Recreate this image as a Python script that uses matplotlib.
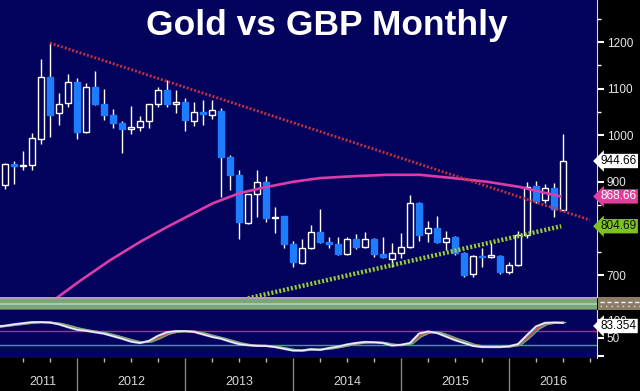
import numpy as np
import matplotlib.pyplot as plt
from matplotlib.patches import Rectangle
from matplotlib.transforms import blended_transform_factory

# Monthly gold in GBP, Apr 2011 - Jun 2016
months = [f"{2011 + (m + 3) // 12}-{(m + 3) % 12 + 1:02d}" for m in range(63)]
opens = [893, 937, 933, 936, 992, 1125, 1048, 1069, 1114, 1007, 1103, 1067, 1043, 1026, 1013, 1018,
         1030, 1067, 1097, 1067, 1071, 1030, 1050, 1043, 1052, 953, 915, 812, 874, 900, 822, 827,
         767, 725, 758, 792, 771, 767, 745, 777, 760, 777, 745, 734, 747, 760, 854, 790, 801, 771,
         782, 747, 702, 739, 739, 740, 706, 721, 786, 891, 861, 887, 839]
highs = [940, 945, 966, 1005, 1164, 1198, 1090, 1131, 1123, 1112, 1138, 1099, 1056, 1030, 1063, 1041,
         1068, 1103, 1118, 1097, 1080, 1071, 1076, 1076, 1058, 958, 925, 874, 925, 912, 846, 827,
         773, 777, 807, 842, 782, 782, 782, 788, 792, 779, 782, 769, 790, 872, 857, 816, 827, 794,
         784, 749, 742, 758, 769, 742, 728, 794, 900, 902, 895, 897, 1003]
lows = [885, 895, 925, 925, 981, 996, 1022, 1060, 992, 1005, 1065, 1033, 1015, 962, 1003, 1009,
        1015, 1061, 1061, 1048, 1009, 1020, 1022, 1035, 867, 882, 777, 810, 824, 814, 790, 758,
        717, 723, 756, 769, 758, 744, 743, 756, 758, 739, 737, 717, 736, 758, 773, 771, 769, 754,
        743, 696, 696, 717, 737, 702, 702, 719, 779, 854, 854, 824, 839]
closes = [938, 935, 935, 994, 1125, 1043, 1067, 1114, 1007, 1103, 1067, 1043, 1026, 1013, 1018, 1030,
          1067, 1097, 1067, 1071, 1033, 1050, 1045, 1054, 953, 915, 814, 874, 900, 822, 824, 767,
          728, 758, 792, 771, 767, 745, 777, 760, 777, 745, 739, 747, 760, 854, 786, 801, 771, 779,
          747, 700, 740, 738, 743, 706, 721, 786, 889, 859, 887, 842, 944.66]

# long moving average (read points: bar index, value)
ma_idx = [5, 5.9, 8.3, 11.7, 15, 18, 20.6, 23.1, 26.1, 29.1, 32, 35, 38.7, 42.4, 46.1, 49.8, 53.6, 57.2, 61.7]
ma_vals = [640, 653, 687, 732, 771, 803, 829, 854, 876, 889, 900, 908, 912, 915, 915, 908, 900, 889, 868.66]

# trend lines (bar index, price)
res_idx = [5, 65]
res_vals = [1198, 818]
sup_idx = [27, 61.8]
sup_vals = [650, 804.69]

# oscillator (lower panel)
osc_fast = [82, 84, 88, 91, 94, 94, 93, 88, 80, 73, 70, 66, 62, 55, 48, 40, 36, 42, 56, 66, 69, 69,
            67, 60, 53, 48, 40, 33, 30, 28, 28, 25, 20, 15, 15, 19, 17, 22, 26, 32, 36, 39, 38, 36,
            29, 31, 36, 62, 68, 64, 54, 44, 36, 28, 25, 25, 25, 27, 33, 58, 82, 92, 93, 92]
osc_slow = [80, 83, 86, 89, 92, 94, 93, 90, 84, 77, 72, 68, 64, 58, 51, 44, 38, 39, 49, 61, 67, 69,
            68, 63, 56, 50, 43, 36, 31, 29, 28, 26, 22, 17, 15, 17, 18, 20, 24, 29, 34, 37, 38, 37,
            32, 30, 34, 54, 65, 66, 58, 48, 40, 31, 27, 25, 25, 26, 30, 50, 74, 88, 92, 93]
osc_last = 83.354
years = ['2011', '2012', '2013', '2014', '2015', '2016']

NAVY = '#03035e'
BLUE = '#1e7cff'
W, H = 640, 391
plt.rcParams['font.family'] = ['Liberation Sans', 'DejaVu Sans']

fig = plt.figure(figsize=(6.4, 3.91), dpi=100, facecolor='black')


def px_axes(x0, y0, x1, y1):
    return fig.add_axes([x0 / W, 1 - y1 / H, (x1 - x0) / W, (y1 - y0) / H])


ax = px_axes(0, 0, 597, 297)
axl = px_axes(0, 310, 597, 358)

x = np.arange(len(opens))
xlim = (-5 / 9, 592 / 9)

# --- main panel ---
ax.set_facecolor(NAVY)
ax.vlines(x, lows, highs, color='white', lw=1, zorder=2)
o = np.array(opens, dtype=float)
c = np.array(closes, dtype=float)
up = c >= o
bottoms = np.minimum(o, c)
heights = np.maximum(np.abs(c - o), 3)
ax.bar(x[up], heights[up], bottom=bottoms[up], width=0.62, facecolor=NAVY,
       edgecolor='white', lw=1, zorder=3)
ax.bar(x[~up], heights[~up], bottom=bottoms[~up], width=0.62, facecolor=BLUE,
       edgecolor=BLUE, lw=1, zorder=3)

ax.plot(ma_idx, ma_vals, color='#dc3caa', lw=1.9, zorder=4)
ax.plot(res_idx, res_vals, color='#c8303c', lw=2.0, dashes=(0.7, 0.7), zorder=4)
ax.plot(sup_idx, sup_vals, color='#9acd32', lw=3.2, dashes=(0.45, 0.45), zorder=4)

ax.set_xlim(*xlim)
ax.set_ylim(652.8, 1290.2)
ax.set_xticks([])
ax.yaxis.tick_right()
ax.set_yticks(np.arange(700, 1201, 100))
ax.set_yticks(np.arange(750, 1251, 100), minor=True)
ax.tick_params(axis='y', which='major', colors='white', length=5, width=1.5, labelsize=8.5,
               labelcolor='#e6e6e6', pad=2)
ax.tick_params(axis='y', which='minor', colors='white', length=3, width=1)
for s in ['top', 'left', 'bottom']:
    ax.spines[s].set_visible(False)
ax.spines['right'].set_color('#dddddd')

tr = blended_transform_factory(ax.transAxes, ax.transData)
box = dict(boxstyle='larrow,pad=0.1', ec='none')
ax.text(1.006, closes[-1], f"{closes[-1]:.2f}", transform=tr, fontsize=8.5, color='black',
        va='center', ha='left', bbox=dict(box, fc='white'), clip_on=False, zorder=10)
ax.text(1.006, ma_vals[-1], f"{ma_vals[-1]:.2f}", transform=tr, fontsize=8.5, color='white',
        va='center', ha='left', bbox=dict(box, fc='#e0409c'), clip_on=False, zorder=10)
ax.text(1.006, sup_vals[-1], f"{sup_vals[-1]:.2f}", transform=tr, fontsize=8.5, color='#101010',
        va='center', ha='left', bbox=dict(box, fc='#7dc21e'), clip_on=False, zorder=10)

fig.text(327 / W, 1 - 25 / H, 'Gold vs GBP Monthly', fontsize=25.5, fontweight='bold',
         color='white', ha='center', va='center')

# --- separator band ---
fig.patches.append(Rectangle((0, 1 - 310 / H), 597 / W, 13 / H, transform=fig.transFigure,
                             facecolor='#7ba67b', edgecolor='none'))
fig.patches.append(Rectangle((0, 1 - 298.5 / H), 597 / W, 1.5 / H, transform=fig.transFigure,
                             facecolor='#b897b8', edgecolor='none'))
fig.patches.append(Rectangle((0, 1 - 304.5 / H), 597 / W, 1.2 / H, transform=fig.transFigure,
                             facecolor='#a5cba5', edgecolor='none'))
fig.patches.append(Rectangle((0, 1 - 310 / H), 597 / W, 1.2 / H, transform=fig.transFigure,
                             facecolor='#4f6a5a', edgecolor='none'))
fig.patches.append(Rectangle((598 / W, 1 - 310 / H), 42 / W, 13 / H, transform=fig.transFigure,
                             facecolor='#8a7c66', edgecolor='none'))
fig.lines.append(plt.Line2D([600 / W, 1], [1 - 302 / H] * 2, transform=fig.transFigure,
                            color='white', lw=1, dashes=(3, 2)))
fig.lines.append(plt.Line2D([600 / W, 1], [1 - 306 / H] * 2, transform=fig.transFigure,
                            color='#e8e0d0', lw=1, dashes=(1, 3)))

# --- lower panel ---
axl.set_facecolor(NAVY)
xo = np.arange(len(osc_fast)) - 1
axl.axhline(70, color='#c0305a', lw=1)
axl.axhline(30, color='#3aa08a', lw=1)
axl.plot(xo, osc_slow, color='#b8584a', lw=1.6)
axl.plot(xo + 0.3, osc_slow, color='#70b070', lw=1.0)
axl.plot(xo, osc_fast, color='#c8c0f4', lw=1.6)
axl.plot(xo, osc_fast, color='white', lw=0.6)
axl.set_xlim(*xlim)
axl.set_ylim(-5.6, 127.8)
axl.yaxis.tick_right()
axl.set_yticks([0, 50, 100])
axl.set_yticklabels(['', '50', '100'])
axl.tick_params(axis='y', colors='white', length=5, width=1.5, labelsize=8.5,
                labelcolor='#e6e6e6', pad=2)
for s in ['top', 'left', 'bottom']:
    axl.spines[s].set_visible(False)
axl.spines['right'].set_color('#dddddd')
trl = blended_transform_factory(axl.transAxes, axl.transData)
axl.text(1.006, osc_last, f"{osc_last:.3f}", transform=trl, fontsize=8.5, color='black',
         va='center', ha='left', bbox=dict(box, fc='white'), clip_on=False, zorder=10)

# x axis: year separators at each December bar, quarter ticks
dec_idx = [i for i, m in enumerate(months) if m.endswith('-12')]
axl.set_xticks(dec_idx)
axl.set_xticks([t for t in range(2, 66, 3) if t not in dec_idx], minor=True)
axl.set_xticklabels([])
axl.tick_params(axis='x', which='major', colors='#858585', length=24, width=1)
axl.tick_params(axis='x', which='minor', colors='#bbbbbb', length=3, width=1)
bounds = [xlim[0]] + dec_idx + [xlim[1]]
trx = blended_transform_factory(axl.transData, axl.transAxes)
for k, yr in enumerate(years):
    mid = (bounds[k] + bounds[k + 1]) / 2 + (0.5 if k == 0 else 0)
    axl.text(mid, -0.5, yr, transform=trx, fontsize=9, color='#d8d8d8', ha='center', va='center')

fig.savefig('out.png', dpi=100, facecolor='black')
